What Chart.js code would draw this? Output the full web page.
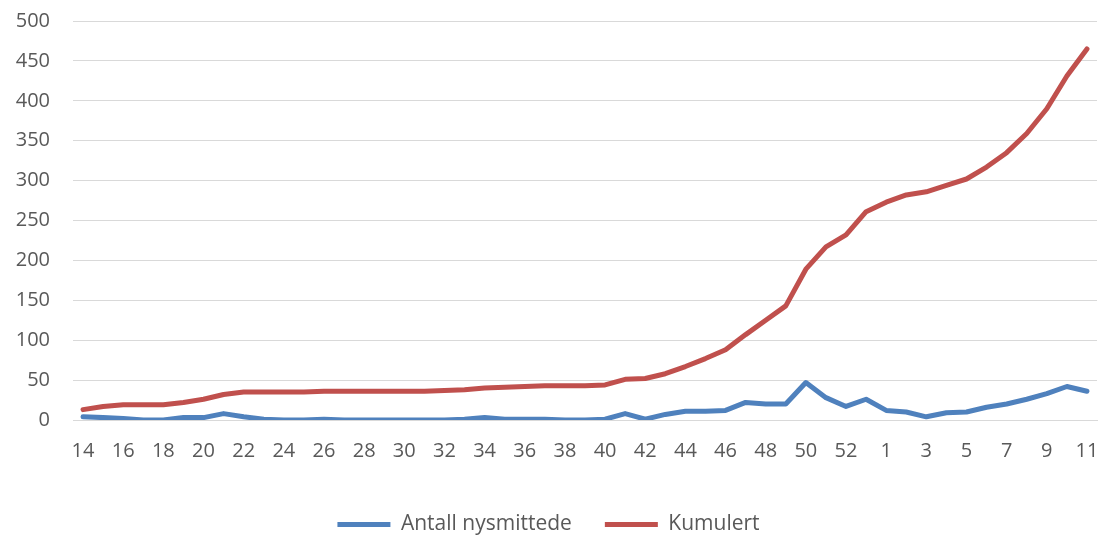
<!DOCTYPE html>
<html>
<head>
<meta charset="utf-8">
<script src="https://cdn.jsdelivr.net/npm/chart.js@4"></script>
<style>
  html, body { margin: 0; padding: 0; background: #fff; }
  #wrap { width: 1101px; height: 539px; }
</style>
</head>
<body>
<div id="wrap"><canvas id="chart" width="1101" height="539"></canvas></div>
<script>
// Uker 14-53 og 1-11
const weeks = [
  "14","15","16","17","18","19","20","21","22","23","24","25","26","27","28","29","30",
  "31","32","33","34","35","36","37","38","39","40","41","42","43","44","45","46","47",
  "48","49","50","51","52","53","1","2","3","4","5","6","7","8","9","10","11"
];

const nysmittede = [
  4, 3, 2, 0, 0, 3, 3, 8, 4, 1, 0, 0, 1, 0, 0, 0, 0,
  0, 0, 1, 3, 1, 1, 1, 0, 0, 1, 8, 1, 7, 11, 11, 12, 22,
  20, 20, 47, 28, 17, 26, 12, 10, 4, 9, 10, 16, 20, 26, 33, 42, 36
];

const kumulert = [
  13, 17, 19, 19, 19, 22, 26, 32, 35, 35, 35, 35, 36, 36, 36, 36, 36,
  36, 37, 38, 40, 41, 42, 43, 43, 43, 44, 51, 52, 58, 67, 77, 88, 107,
  125, 143, 189, 217, 232, 261, 273, 282, 286, 294, 302, 317, 335, 359, 390, 431, 465
];

const FONT = { family: "'Open Sans', sans-serif", size: 20 };
const TEXT = "#595959";
const GRID = "#d9d9d9";

// ─── Datasets ────────────────────────────────────────────────
const lineStyle = color => ({
  borderColor: color,
  backgroundColor: color,
  borderWidth: 5,
  borderCapStyle: "round",
  borderJoinStyle: "round",
  pointRadius: 0,
  pointHoverRadius: 0,
  tension: 0,
  fill: false,
});

new Chart(document.getElementById("chart"), {
  type: "line",
  data: {
    labels: weeks,
    datasets: [
      { label: "Antall nysmittede", data: nysmittede, ...lineStyle("#4f81bd") },
      { label: "Kumulert", data: kumulert, ...lineStyle("#c0504d") },
    ]
  },
  options: {
    responsive: false,
    animation: false,
    layout: { padding: { top: 21, right: 4, bottom: -6, left: 0 } },
    plugins: {
      tooltip: { enabled: false },
      legend: {
        position: "bottom",
        labels: {
          color: TEXT,
          font: { ...FONT, size: 21 },
          usePointStyle: true,
          pointStyle: "line",
          pointStyleWidth: 53,
          padding: 33,
        }
      }
    },
    scales: {
      x: {
        offset: true,
        grid: { display: false, drawTicks: false },
        border: { display: true, color: GRID, width: 1 },
        ticks: {
          color: TEXT,
          font: FONT,
          padding: 19,
          autoSkip: false,
          maxRotation: 0,
          callback: (v, i) => (i % 2 === 0 ? weeks[i] : ""),
        },
        afterFit: scale => {
          scale.height = 61;
          scale.paddingLeft = 0;
          scale.paddingRight = 0;
        },
      },
      y: {
        min: 0,
        max: 500,
        grid: { color: GRID, lineWidth: 1, drawTicks: false },
        border: { display: false },
        ticks: { stepSize: 50, color: TEXT, font: FONT, padding: 23 },
        afterFit: scale => {
          scale.width = 73;
          scale.paddingTop = 0;
          scale.paddingBottom = 0;
        },
      }
    }
  }
});
</script>
</body>
</html>
